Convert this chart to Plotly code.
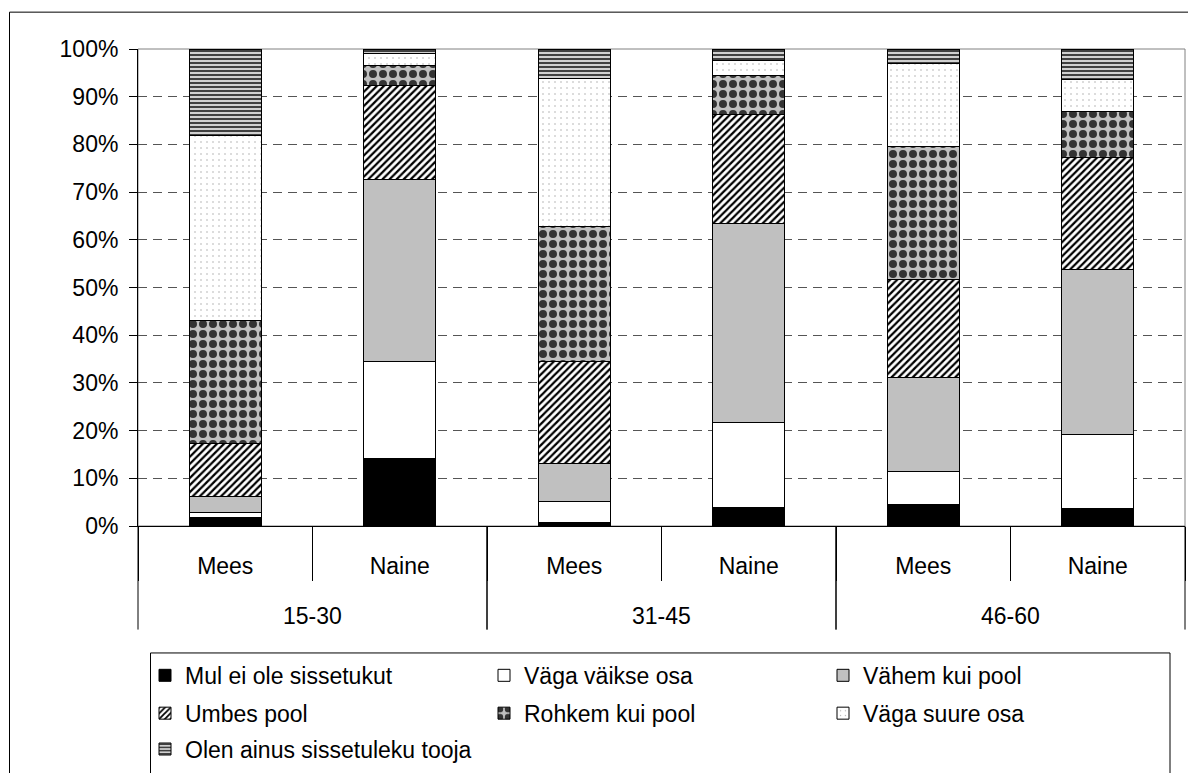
import plotly.graph_objects as go

# ---- data ----
age_groups = ["15-30", "15-30", "31-45", "31-45", "46-60", "46-60"]
genders = ["Mees", "Naine", "Mees", "Naine", "Mees", "Naine"]

series_names = [
    "Mul ei ole sissetukut",
    "Väga väikse osa",
    "Vähem kui pool",
    "Umbes pool",
    "Rohkem kui pool",
    "Väga suure osa",
    "Olen ainus sissetuleku tooja",
]

mul_ei_ole = [1.8, 14.1, 0.8, 3.9, 4.6, 3.6]
vaga_vaikse = [1.0, 20.3, 4.4, 17.8, 6.9, 15.6]
vahem_kui_pool = [3.4, 38.2, 8.0, 41.8, 19.6, 34.5]
umbes_pool = [11.2, 19.8, 21.2, 22.8, 20.5, 23.5]
rohkem_kui_pool = [25.6, 4.2, 28.4, 8.1, 28.0, 9.6]
vaga_suure = [38.8, 2.4, 31.1, 3.1, 17.3, 6.9]
olen_ainus = [18.2, 1.0, 6.1, 2.5, 3.1, 6.3]

series_values = [mul_ei_ole, vaga_vaikse, vahem_kui_pool, umbes_pool,
                 rohkem_kui_pool, vaga_suure, olen_ainus]

y_tick_vals = [0, 10, 20, 30, 40, 50, 60, 70, 80, 90, 100]
y_tick_text = ["0%", "10%", "20%", "30%", "40%", "50%", "60%", "70%", "80%", "90%", "100%"]

# unique category keys for the x axis (one per bar), labelled with gender
categories = [g + " " + s for g, s in zip(age_groups, genders)]
groups = list(dict.fromkeys(age_groups))

# ---- styles ----
FONT = "Liberation Sans, Arial, sans-serif"
FS = 23

styles = [
    dict(color="black"),
    dict(color="white"),
    dict(color="#c0c0c0"),
    dict(color="white", pattern=dict(shape="/", fgcolor="black", bgcolor="white",
                                     size=5, solidity=0.45, fillmode="replace")),
    dict(color="#c0c0c0", pattern=dict(shape=".", fgcolor="#333333", bgcolor="#c0c0c0",
                                       size=10, solidity=0.5, fillmode="replace")),
    dict(color="white", pattern=dict(shape=".", fgcolor="#b0b0b0", bgcolor="white",
                                     size=6, solidity=0.06, fillmode="replace")),
    dict(color="#d0d0d0", pattern=dict(shape="-", fgcolor="#404040", bgcolor="#d0d0d0",
                                       size=4, solidity=0.5, fillmode="replace")),
]
legend_ids = ["legend", "legend", "legend", "legend2", "legend2", "legend2", "legend3"]

fig = go.Figure()
for name, vals, st, lg in zip(series_names, series_values, styles, legend_ids):
    marker = dict(line=dict(color="black", width=1), **st)
    fig.add_trace(go.Bar(
        x=categories,
        y=vals,
        name=name,
        marker=marker,
        legend=lg,
        hoverinfo="skip",
    ))

# layout geometry (pixels)
W, H = 1188, 773
ML, MR, MT, MB = 138, 3, 49, 245
PW = W - ML - MR
PH = H - MT - MB
N = len(categories)


def px_x(x):
    return (x - ML) / PW


def px_y(y):
    return (H - MB - y) / PH


def cat_paper(idx):
    # category axis spans [-0.5, N-0.5]
    return (idx + 0.5) / N


legend_common = dict(
    orientation="h",
    xanchor="left",
    yanchor="middle",
    x=px_x(145),
    bgcolor="rgba(0,0,0,0)",
    borderwidth=0,
    font=dict(family=FONT, size=FS, color="black"),
    entrywidth=294,
    entrywidthmode="pixels",
    traceorder="normal",
)

shapes = [
    # plot area border (top/right in gray)
    dict(type="rect", xref="paper", yref="paper", x0=0, x1=1, y0=0, y1=1,
         line=dict(color="#808080", width=1), layer="between"),
    # outer chart frame
    dict(type="rect", xref="paper", yref="paper",
         x0=px_x(9.5), x1=px_x(1200), y0=px_y(800), y1=px_y(12),
         line=dict(color="black", width=1), layer="above"),
    # legend frame
    dict(type="rect", xref="paper", yref="paper",
         x0=px_x(150.5), x1=px_x(1170), y0=px_y(800), y1=px_y(655.5),
         line=dict(color="black", width=1), layer="above"),
]

annotations = []
for g in groups:
    idx = [i for i, a in enumerate(age_groups) if a == g]
    first, last = idx[0], idx[-1]
    # long group dividers
    for edge in (first - 0.5, last + 0.5):
        shapes.append(dict(type="line", xref="paper", yref="paper",
                           x0=cat_paper(edge), x1=cat_paper(edge),
                           y0=0, y1=px_y(632),
                           line=dict(color="black", width=1), layer="above"))
    annotations.append(dict(text=g, xref="paper", yref="paper",
                            x=cat_paper((first + last) / 2), y=px_y(618),
                            xanchor="center", yanchor="middle", showarrow=False,
                            font=dict(family=FONT, size=FS, color="black")))

fig.update_layout(
    width=W,
    height=H,
    margin=dict(l=ML, r=MR, t=MT, b=MB, pad=0),
    paper_bgcolor="white",
    plot_bgcolor="white",
    barmode="stack",
    bargap=0.59,
    font=dict(family=FONT, size=FS, color="black"),
    legend=dict(legend_common, y=px_y(678)),
    legend2=dict(legend_common, y=px_y(716)),
    legend3=dict(legend_common, y=px_y(752)),
    xaxis=dict(
        type="category",
        tickvals=categories,
        ticktext=genders,
        showline=True,
        linecolor="black",
        linewidth=1,
        ticks="outside",
        tickson="boundaries",
        ticklen=54,
        tickcolor="black",
        tickwidth=1,
        ticklabelstandoff=19,
        showgrid=False,
        automargin=False,
        tickfont=dict(family=FONT, size=FS, color="black"),
    ),
    yaxis=dict(
        range=[0, 100],
        tickvals=y_tick_vals,
        ticktext=y_tick_text,
        showline=True,
        linecolor="black",
        linewidth=1,
        ticks="outside",
        ticklen=8,
        tickcolor="black",
        ticklabelstandoff=6,
        showgrid=True,
        gridcolor="#555555",
        gridwidth=1,
        griddash="9px,6px",
        zeroline=False,
        automargin=False,
        tickfont=dict(family=FONT, size=FS, color="black"),
    ),
    shapes=shapes,
    annotations=annotations,
)

fig.write_html("out.html", config={"displayModeBar": False},
               post_script="document.body.style.margin='0';")
